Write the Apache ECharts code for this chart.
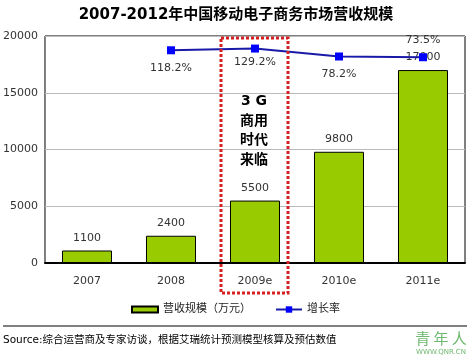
<!DOCTYPE html>
<html><head><meta charset="utf-8">
<script src="https://cdn.jsdelivr.net/npm/echarts@6/dist/echarts.min.js"></script>
<style>html,body{margin:0;padding:0;background:#fff}#c{width:472px;height:357px}</style>
</head><body><div id="c"></div>
<script>
var categories = ['2007', '2008', '2009e', '2010e', '2011e'];
var revenue = [1100, 2400, 5500, 9800, 17000];
var growth = [null, 118.2, 129.2, 78.2, 73.5];
var yTicks = [0, 5000, 10000, 15000, 20000];
var titleText = '2007-2012年中国移动电子商务市场营收规模';
var sourceText = 'Source:综合运营商及专家访谈，根据艾瑞统计预测模型核算及预估数值';

var font = 'DejaVu Sans, Noto Sans CJK SC, sans-serif';
var chart = echarts.init(document.getElementById('c'), null, {renderer: 'canvas'});
var labelPos = ['bottom', 'bottom', 'bottom', 'bottom', 'top'];
chart.setOption({
  animation: false,
  textStyle: {fontFamily: font},
  title: {text: titleText, left: 'center', top: 3,
    textStyle: {fontSize: 15, fontWeight: 'bold', color: '#000', fontFamily: font}},
  grid: {left: 44, right: 7, top: 36, bottom: 94, show: true, borderColor: '#000', borderWidth: 1, backgroundColor: '#fff'},
  legend: [
    {data: [{name: '营收规模（万元）', icon: 'rect'}], left: 126, top: 299, itemWidth: 26, itemHeight: 6, itemGap: 4,
      textStyle: {fontSize: 11, color: '#222', fontFamily: font}},
    {data: ['增长率'], left: 270, top: 299, itemWidth: 26, itemHeight: 8,
      textStyle: {fontSize: 11, color: '#222', fontFamily: font}}
  ],
  xAxis: {type: 'category', data: categories,
    axisLine: {lineStyle: {color: '#000', width: 2}}, axisTick: {show: false},
    axisLabel: {color: '#333', fontSize: 11, margin: 13, fontFamily: font}},
  yAxis: [
    {type: 'value', min: yTicks[0], max: yTicks[yTicks.length - 1], interval: 5000,
      axisLine: {show: false}, axisTick: {show: false},
      splitLine: {lineStyle: {color: '#bbb'}},
      axisLabel: {color: '#333', fontSize: 11, margin: 7, fontFamily: font,
        formatter: function (v) { return String(v); }}},
    {type: 'value', min: -1250, max: 210, show: false, splitLine: {show: false}}
  ],
  series: [
    {name: '营收规模（万元）', type: 'bar', data: revenue, barWidth: 50,
      itemStyle: {color: '#99CC00', borderColor: '#000', borderWidth: 1},
      label: {show: true, position: 'top', distance: 7, color: '#333', fontSize: 11, fontFamily: font}},
    {name: '增长率', type: 'line', yAxisIndex: 1, data: growth.map(function (v, i) {
        return v == null ? null : {value: v, label: {position: labelPos[i], distance: i === 2 ? 4 : 8}};
      }),
      symbol: 'rect', symbolSize: 8, z: 5,
      lineStyle: {color: '#1a1aa8', width: 2},
      itemStyle: {color: '#0000ff'},
      label: {show: true, color: '#333', fontSize: 11, fontFamily: font,
        formatter: function (p) { return p.value.toFixed(1) + '%'; }}}
  ],
  graphic: [
    {type: 'rect', shape: {x: 221, y: 38, width: 67, height: 255}, z: 10,
      style: {fill: 'none', stroke: '#d42020', lineWidth: 3, lineDash: [3, 2]}},
    {type: 'text', x: 254, y: 92, z: 11,
      style: {text: '3 G\n商用\n时代\n来临', fill: '#000', font: 'bold 14px ' + font,
        textAlign: 'center', lineHeight: 19.5}},
    {type: 'line', shape: {x1: 3, y1: 326, x2: 467, y2: 326}, style: {stroke: '#000', lineWidth: 1}},
    {type: 'text', x: 3, y: 335, style: {text: sourceText, fill: '#000', font: '10.5px ' + font}},
    {type: 'text', x: 441, y: 331, style: {text: '青 年 人', fill: '#6fb86f', font: '15px Noto Sans CJK SC', textAlign: 'center'}},
    {type: 'text', x: 441, y: 349, style: {text: 'WWW.QNR.CN', fill: '#6fb86f', font: '7px DejaVu Sans', textAlign: 'center'}}
  ]
});
</script></body></html>
